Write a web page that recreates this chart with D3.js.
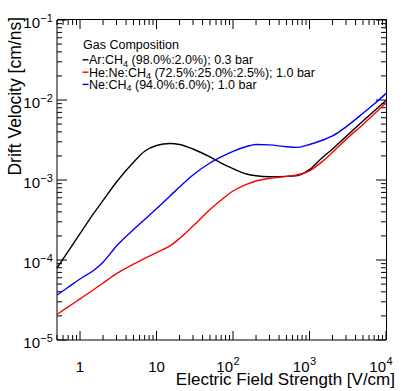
<!DOCTYPE html>
<html><head><meta charset="utf-8">
<script src="https://cdn.jsdelivr.net/npm/d3@7"></script>
<style>body{margin:0;background:#fff}svg{display:block}text{font-family:"Liberation Sans",Arial,Helvetica,sans-serif}</style>
</head><body>
<script>
const fieldE = [0.5,0.7,1,1.5,2,3,5,7,10,15,20,30,50,70,100,150,200,300,500,700,1000,1500,2000,3000,5000,7000,10000];
const vArCH4 = [7.94e-5,1.28e-4,2.13e-4,3.79e-4,5.55e-4,9.45e-4,1.67e-3,2.29e-3,2.70e-3,2.86e-3,2.78e-3,2.44e-3,1.94e-3,1.63e-3,1.39e-3,1.19e-3,1.13e-3,1.10e-3,1.11e-3,1.14e-3,1.35e-3,1.94e-3,2.44e-3,3.50e-3,5.46e-3,7.29e-3,9.86e-3];
const vHeNeCH4 = [2.09e-5,2.59e-5,3.27e-5,4.25e-5,5.16e-5,6.76e-5,8.86e-5,1.045e-4,1.24e-4,1.50e-4,1.86e-4,2.66e-4,4.28e-4,5.62e-4,7.29e-4,8.83e-4,9.72e-4,1.047e-3,1.11e-3,1.165e-3,1.30e-3,1.73e-3,2.22e-3,3.22e-3,4.94e-3,6.68e-3,9.17e-3];
const vNeCH4 = [3.65e-5,4.56e-5,5.79e-5,7.40e-5,9.40e-5,1.50e-4,2.40e-4,3.21e-4,4.38e-4,6.31e-4,8.18e-4,1.155e-3,1.63e-3,1.94e-3,2.28e-3,2.62e-3,2.78e-3,2.75e-3,2.60e-3,2.56e-3,2.78e-3,3.16e-3,3.55e-3,4.62e-3,6.82e-3,8.91e-3,1.205e-2];
const seriesNames = ["Ar:CH|4| (98.0%:2.0%); 0.3 bar","He:Ne:CH|4| (72.5%:25.0%:2.5%); 1.0 bar","Ne:CH|4| (94.0%:6.0%); 1.0 bar"];
const seriesColors = ["#000000","#ff0000","#0000ff"];
const legendTitle = "Gas Composition";
const xTitle = "Electric Field Strength [V/cm]";
const yTitle = "Drift Velocity [cm/ns]";
const xTickVals = [1,10,100,1000,10000];
const xTickBase = ["1","10","10","10","10"];
const xTickExp = ["","","2","3","4"];
const yTickVals = [1e-1,1e-2,1e-3,1e-4,1e-5];
const yTickExp = ["\u22121","\u22122","\u22123","\u22124","\u22125"];

const W=407,H=391;
const svg=d3.select("body").append("svg").attr("width",W).attr("height",H);
const x=d3.scaleLog().domain([0.5,1e4]).range([57,386]);
const y=d3.scaleLog().domain([1e-5,1e-1]).range([340,20]);

const xMinor=[];
for(let d=-1;d<4;d++) for(let k=2;k<10;k++){const v=k*Math.pow(10,d); if(v>=0.5&&v<=1e4) xMinor.push(v);}
const yMinor=[];
for(let d=-5;d<-1;d++) for(let k=2;k<10;k++) yMinor.push(k*Math.pow(10,d));

const tk=svg.append("g").attr("stroke","#000").attr("stroke-width",1);
xMinor.forEach(v=>{const px=x(v);
  tk.append("line").attr("x1",px).attr("x2",px).attr("y1",340).attr("y2",335);
  tk.append("line").attr("x1",px).attr("x2",px).attr("y1",20).attr("y2",25);});
xTickVals.forEach(v=>{const px=x(v);
  tk.append("line").attr("x1",px).attr("x2",px).attr("y1",340).attr("y2",331);
  tk.append("line").attr("x1",px).attr("x2",px).attr("y1",20).attr("y2",29);});
yMinor.forEach(v=>{const py=y(v);
  tk.append("line").attr("x1",57).attr("x2",62).attr("y1",py).attr("y2",py);
  tk.append("line").attr("x1",386).attr("x2",381).attr("y1",py).attr("y2",py);});
yTickVals.forEach(v=>{const py=y(v);
  tk.append("line").attr("x1",57).attr("x2",67).attr("y1",py).attr("y2",py);
  tk.append("line").attr("x1",386).attr("x2",376).attr("y1",py).attr("y2",py);});
tk.append("line").attr("x1",57).attr("x2",57).attr("y1",20).attr("y2",340);
tk.append("line").attr("x1",57).attr("x2",386).attr("y1",340).attr("y2",340);
tk.append("line").attr("x1",57).attr("x2",386.5).attr("y1",19.5).attr("y2",19.5);
tk.append("line").attr("x1",386.5).attr("x2",386.5).attr("y1",19.5).attr("y2",340);

const allSeries=[vArCH4,vHeNeCH4,vNeCH4];
const line=d3.line().x(d=>x(d[0])).y(d=>y(d[1])).curve(d3.curveMonotoneX);
allSeries.forEach((s,i)=>{
  svg.append("path").datum(fieldE.map((e,j)=>[e,s[j]])).attr("d",line)
    .attr("fill","none").attr("stroke",seriesColors[i]).attr("stroke-width",1.4);
});

xTickVals.forEach((v,i)=>{
  const px=x(v);
  if(xTickExp[i]===""){
    svg.append("text").attr("x",px).attr("y",372).attr("text-anchor","middle").attr("font-size",15).text(xTickBase[i]);
  } else {
    const t=svg.append("text").attr("x",px-16.7).attr("y",372).attr("font-size",15);
    t.append("tspan").text(xTickBase[i]);
    t.append("tspan").attr("font-size",11).attr("dx",0.5).attr("dy",-7).text(xTickExp[i]);
  }
});
yTickVals.forEach((v,i)=>{
  const py=y(v);
  const t=svg.append("text").attr("x",23.3).attr("y",py+8).attr("font-size",15);
  t.append("tspan").text("10");
  t.append("tspan").attr("font-size",11).attr("dx",0.3).attr("dy",-6).text(yTickExp[i]);
});
svg.append("text").attr("x",395).attr("y",385).attr("text-anchor","end").attr("font-size",17).text(xTitle);
svg.append("text").attr("transform","translate(21,17) rotate(-90)").attr("text-anchor","end").attr("font-size",17.5).text(yTitle);

svg.append("text").attr("x",83).attr("y",49).attr("font-size",12.5).text(legendTitle);
const rowBase=[64.3,76.7,88.9];
seriesNames.forEach((name,i)=>{
  const b=rowBase[i];
  svg.append("line").attr("x1",82.5).attr("x2",88.5).attr("y1",b-4.5).attr("y2",b-4.5).attr("stroke",seriesColors[i]).attr("stroke-width",1.4);
  const parts=name.split("|");
  const t=svg.append("text").attr("x",89).attr("y",b).attr("font-size",12.5);
  t.append("tspan").text(parts[0]);
  t.append("tspan").attr("font-size",9).attr("dy",2.5).text(parts[1]);
  t.append("tspan").attr("dy",-2.5).text(parts[2]);
});
</script>
</body></html>
